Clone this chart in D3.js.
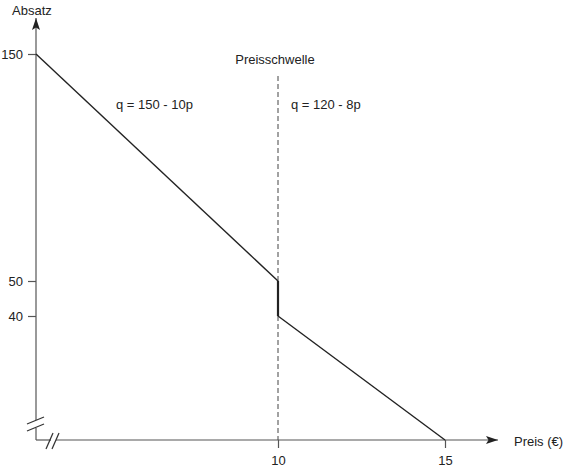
<!DOCTYPE html>
<html><head><meta charset="utf-8">
<script src="https://cdn.jsdelivr.net/npm/d3@7"></script>
<style>
body{margin:0;background:#fff;}
svg{display:block;font-family:"Liberation Sans",Arial,Helvetica,sans-serif;}
</style></head>
<body>
<svg id="c" width="564" height="469"></svg>
<script>
// data
const prices = [0, 10, 10, 15];          // p (€)
const quantities = [150, 50, 40, 0];     // q (Absatz)
const xTicks = [10, 15];
const yTicks = [40, 50, 150];
const threshold = 10;
const formulas = ["q = 150 - 10p", "q = 120 - 8p"];
const xTitle = "Preis (€)";
const yTitle = "Absatz";
const thresholdLabel = "Preisschwelle";

const svg = d3.select("#c");
const x0 = 36, y0 = 440;
// schematic (broken) axes -> piecewise linear scales
const x = d3.scaleLinear().domain([0, 10, 15]).range([x0, 278, 445]);
const y = d3.scaleLinear().domain([0, 40, 50, 150]).range([y0, 316, 281, 54]);

const axisCol = "#555", lineCol = "#222";

svg.append("defs").append("marker")
  .attr("id","arr").attr("viewBox","0 0 12 8").attr("refX",12).attr("refY",4)
  .attr("markerWidth",12).attr("markerHeight",8).attr("markerUnits","userSpaceOnUse")
  .attr("orient","auto")
  .append("path").attr("d","M0,0 L12,4 L0,8 L2.5,4 Z").attr("fill","#222");

// y axis line with break
svg.append("line").attr("x1",x0).attr("x2",x0).attr("y1",y0).attr("y2",428)
  .attr("stroke",axisCol).attr("stroke-width",1.2);
svg.append("line").attr("x1",x0).attr("x2",x0).attr("y1",420).attr("y2",18)
  .attr("stroke",axisCol).attr("stroke-width",1.2).attr("marker-end","url(#arr)");
// y break marks
[[27,424,44,417],[27,431,44,424]].forEach(d=>{
  svg.append("line").attr("x1",d[0]).attr("y1",d[1]).attr("x2",d[2]).attr("y2",d[3])
    .attr("stroke","#333").attr("stroke-width",1.2);
});
// x axis line with break
svg.append("line").attr("x1",x0).attr("x2",51).attr("y1",y0).attr("y2",y0)
  .attr("stroke",axisCol).attr("stroke-width",1.2);
svg.append("line").attr("x1",56).attr("x2",498).attr("y1",y0).attr("y2",y0)
  .attr("stroke",axisCol).attr("stroke-width",1.2).attr("marker-end","url(#arr)");
[[46,449,53,433],[52,449,59,433]].forEach(d=>{
  svg.append("line").attr("x1",d[0]).attr("y1",d[1]).attr("x2",d[2]).attr("y2",d[3])
    .attr("stroke","#333").attr("stroke-width",1.2);
});

// axes ticks via d3 axis
const ya = svg.append("g").attr("transform",`translate(${x0},0)`)
  .call(d3.axisLeft(y).tickValues(yTicks).tickSize(8).tickPadding(5).tickFormat(d3.format("d")));
ya.select(".domain").remove();
ya.selectAll(".tick line").attr("stroke",axisCol).attr("stroke-width",1.2);
ya.selectAll(".tick text").attr("font-size",13).attr("fill","#222")
  .attr("font-family","Liberation Sans, Arial, sans-serif");

const xa = svg.append("g").attr("transform",`translate(0,${y0})`)
  .call(d3.axisBottom(x).tickValues(xTicks).tickSize(8).tickPadding(8).tickFormat(d3.format("d")));
xa.select(".domain").remove();
xa.selectAll(".tick line").attr("stroke",axisCol).attr("stroke-width",1.2);
xa.selectAll(".tick text").attr("font-size",13).attr("fill","#222")
  .attr("font-family","Liberation Sans, Arial, sans-serif");

// threshold dashed line
svg.append("line").attr("x1",x(threshold)).attr("x2",x(threshold))
  .attr("y1",76).attr("y2",y0)
  .attr("stroke","#444").attr("stroke-width",1).attr("stroke-dasharray","5,3");

// demand curve
const pts = prices.map((p,i)=>[x(p), y(quantities[i])]);
svg.append("path").attr("d", d3.line()(pts.slice(0,2))).attr("fill","none")
  .attr("stroke",lineCol).attr("stroke-width",1.4);
svg.append("path").attr("d", d3.line()(pts.slice(1,3))).attr("fill","none")
  .attr("stroke",lineCol).attr("stroke-width",2.2);
svg.append("path").attr("d", d3.line()(pts.slice(2,4))).attr("fill","none")
  .attr("stroke",lineCol).attr("stroke-width",1.4);

// texts
const T = (tx,ty,s,anchor)=>svg.append("text").attr("x",tx).attr("y",ty)
  .attr("font-size",13).attr("fill","#222").attr("text-anchor",anchor||"start")
  .attr("dominant-baseline","central").text(s);
T(12,10,yTitle);
T(514,441,xTitle);
T(x(threshold)-3,59,thresholdLabel,"middle");
T(116,104,formulas[0]);
T(291,104,formulas[1]);
</script>
</body></html>
